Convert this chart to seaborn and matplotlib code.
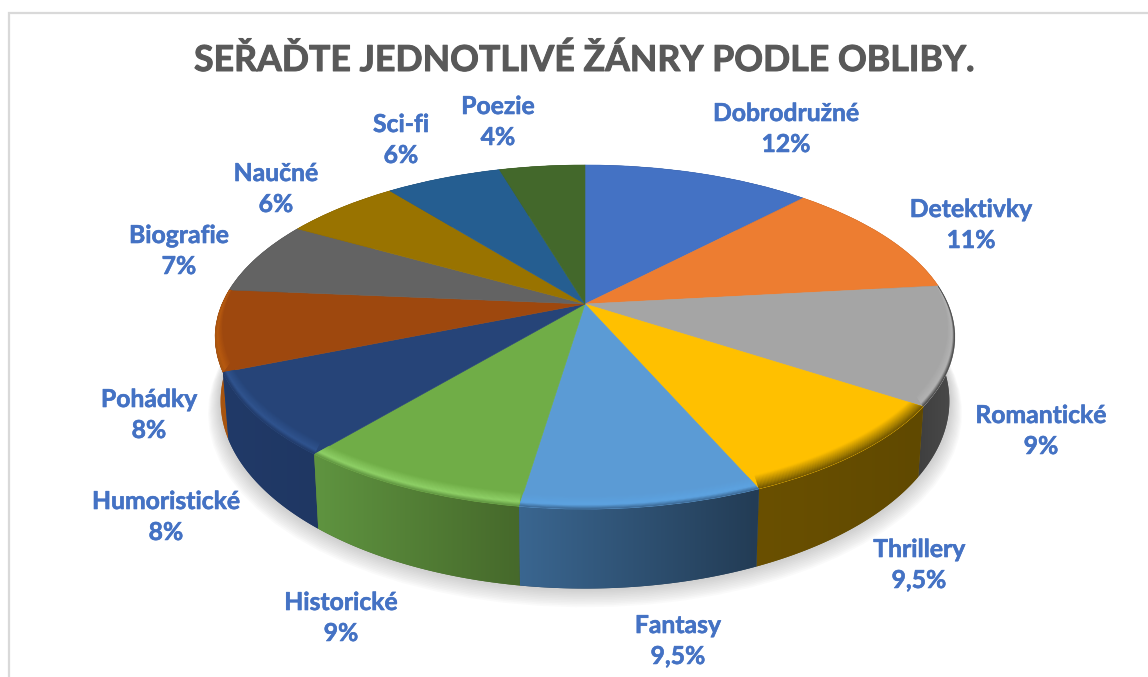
import numpy as np
import matplotlib
matplotlib.use('Agg')
import matplotlib.pyplot as plt
import matplotlib.patheffects as pe
import seaborn as sns
from matplotlib.patches import PathPatch
from matplotlib.path import Path
from matplotlib.transforms import Transform
from matplotlib.colors import to_rgb

# Chart content
title = 'SEŘAĎTE JEDNOTLIVÉ ŽÁNRY PODLE OBLIBY.'
genres = ['Dobrodružné', 'Detektivky', 'Romantické', 'Thrillery', 'Fantasy', 'Historické',
          'Humoristické', 'Pohádky', 'Biografie', 'Naučné', 'Sci-fi', 'Poezie']
percent_labels = ['12%', '11%', '9%', '9,5%', '9,5%', '9%', '8%', '8%', '7%', '6%', '6%', '4%']
# slice sizes as they look in the picture (the typed labels do not quite match them)
slice_values = [12.0, 11.2, 11.1, 9.2, 8.8, 8.6, 7.8, 7.6, 6.9, 6.1, 6.1, 4.5]

# Styles
top_colors = ['#4472C4', '#ED7D31', '#A5A5A5', '#FFC000', '#5B9BD5', '#70AD47',
              '#264478', '#9E480E', '#636363', '#997300', '#255E91', '#43682B']
wall_left = ['#2d4a80', '#9a5120', '#3f3f3f', '#6a5000', '#3a6690', '#5f9440',
             '#213a68', '#a85510', '#404040', '#634b00', '#183d5f', '#2c441c']
wall_right = ['#2d4a80', '#9a5120', '#4a4a4a', '#604900', '#233c55', '#46692b',
              '#1f3763', '#a85510', '#404040', '#634b00', '#183d5f', '#2c441c']
rim_colors = ['#4472C4', '#ED7D31', '#b4b4b4', '#9a7600', '#5da4e2', '#90d268',
              '#315590', '#b85a10', '#636363', '#997300', '#255E91', '#43682B']
label_xy = [(786, 129), (971, 225), (1041, 431), (919, 565), (678, 641), (341, 618),
            (166, 517), (149, 415), (179, 251), (276, 189), (401, 140), (498, 122)]

# Perspective of the pie, in pixels of the picture
CX, CY = 585, 304
A, B, K = 363, 165.7, 0.192


def project(x, y):
    w = 1 + K * y
    return CX + A * x / w, CY - B * y / w


class Tilt(Transform):
    input_dims = 2
    output_dims = 2
    is_affine = False
    has_inverse = False

    def transform_non_affine(self, values):
        values = np.asarray(values)
        px, py = project(values[:, 0], values[:, 1])
        return np.column_stack([px, py])


def rim_curve(theta1, theta2, radius=1.0, lift=0.0):
    phi = np.radians(np.linspace(theta1, theta2, 80))
    px, py = project(radius * np.cos(phi), radius * np.sin(phi))
    return px, py - lift


def base_curve(theta1, theta2, grow=1.0, drop=0.0):
    px, py = rim_curve(theta1, theta2)
    return CX + (px - CX) * 0.985 * grow, CY + (py - CY) * 1.09 * grow + 61 + drop


def band(x1, y1, x2, y2):
    verts = np.column_stack([np.r_[x1, x2[::-1]], np.r_[y1, y2[::-1]]])
    return Path(np.vstack([verts, verts[0]]), closed=True)


def mix(c1, c2, f):
    return tuple(np.array(to_rgb(c1)) * (1 - f) + np.array(to_rgb(c2)) * f)


sns.set_theme(style='white')
plt.rcParams['font.family'] = ['Lato', 'DejaVu Sans']

fig = plt.figure(figsize=(11.48, 6.77), dpi=100)
ax = fig.add_axes([0, 0, 1, 1])

palette = sns.color_palette(top_colors)
wedges, _ = ax.pie(slice_values, colors=palette, startangle=90, counterclock=False,
                   wedgeprops={'linewidth': 0.4})
ax.set_aspect('auto')
ax.set_xlim(0, 1148)
ax.set_ylim(677, 0)
ax.axis('off')

tilt = Tilt() + ax.transData
for i, wedge in enumerate(wedges):
    wedge.set_transform(tilt)
    wedge.set_edgecolor(palette[i])
    wedge.set_zorder(5)

# soft shadow under the pie
for step in range(12):
    grow = 1.035 - 0.003 * step
    x, y = base_curve(0, 360, grow=grow, drop=11 - step)
    ax.fill(x, y, color='#808080', alpha=0.035, lw=0, zorder=1)

# side walls, back slices first so the front ones cover them
order = sorted(range(len(wedges)),
               key=lambda n: np.sin(np.radians((wedges[n].theta1 + wedges[n].theta2) / 2)),
               reverse=True)
for i in order:
    t1, t2 = wedges[i].theta1, wedges[i].theta2
    x1, y1 = rim_curve(t1, t2)
    x2, y2 = base_curve(t1, t2)
    shape = PathPatch(band(x1, y1, x2, y2), fc=wall_right[i], lw=0, zorder=2)
    ax.add_patch(shape)
    grad = np.linspace(0, 1, 64)[:, None]
    rgb = (np.array(to_rgb(wall_left[i]))[None, :] * (1 - grad)
           + np.array(to_rgb(wall_right[i]))[None, :] * grad)[None, :, :]
    xs = np.r_[x1, x2]
    ys = np.r_[y1, y2]
    img = ax.imshow(rgb, extent=(xs.min(), xs.max(), ys.max(), ys.min()),
                    aspect='auto', zorder=2, interpolation='bilinear')
    img.set_clip_path(shape)
ax.set_xlim(0, 1148)
ax.set_ylim(677, 0)

# bevel along the front rim, drawn on the top face
steps = 16
for i, wedge in enumerate(wedges):
    if rim_colors[i].lower() == top_colors[i].lower():
        continue
    for s in range(steps, 0, -1):
        u1, u0 = s / steps, (s - 1) / steps
        mid = (u1 + u0) / 2
        if mid > 0.3:
            color = mix(rim_colors[i], top_colors[i], (mid - 0.3) / 0.7)
        else:
            color = mix(wall_left[i], rim_colors[i], mid / 0.3)
        xa, ya = rim_curve(wedge.theta1, wedge.theta2, 1 - 0.02 * u1, 9 * u1)
        xb, yb = rim_curve(wedge.theta1, wedge.theta2, 1 - 0.02 * u0, 9 * u0)
        strip = PathPatch(band(xa, ya, xb, yb), fc=color, ec=color, lw=0.3, zorder=6)
        ax.add_patch(strip)
        strip.set_clip_path(wedge)

# frame of the chart area
ax.plot([9, 9, 1148], [677, 12.5, 12.5], color='#d9d9d9', lw=1.6, zorder=0,
        solid_joinstyle='miter')

ax.text(583.5, 60, title, ha='center', va='center', fontsize=25.7, fontweight='bold',
        color='#595959', zorder=10,
        path_effects=[pe.withStroke(linewidth=0.7, foreground='#595959')])
for name, pct, (lx, ly) in zip(genres, percent_labels, label_xy):
    ax.text(lx, ly, name + '\n' + pct, ha='center', va='center', fontsize=17.8,
            fontweight='bold', color='#4472C4', linespacing=1.42, zorder=10,
            path_effects=[pe.withStroke(linewidth=0.4, foreground='#4472C4')])

fig.savefig('out.png', dpi=100, facecolor='white')
